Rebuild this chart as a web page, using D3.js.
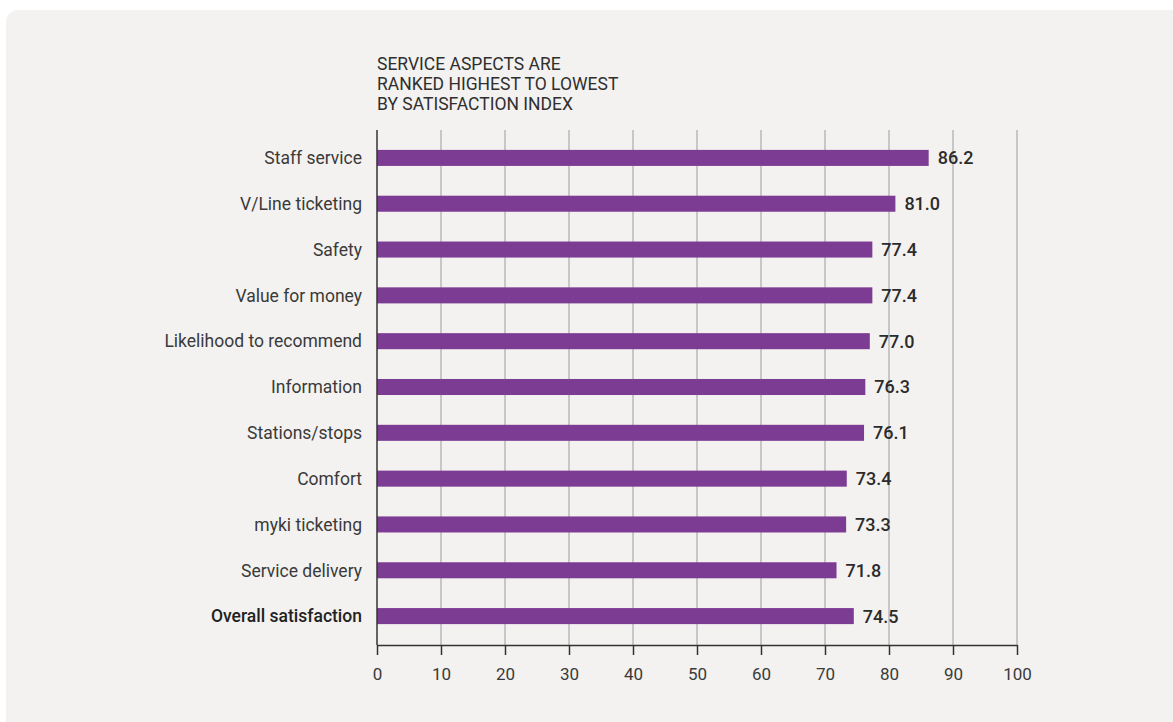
<!DOCTYPE html>
<html>
<head>
<meta charset="utf-8">
<script src="https://cdn.jsdelivr.net/npm/d3@7"></script>
<style>
  html, body { margin: 0; padding: 0; background: #ffffff; }
  svg { display: block; }
  text { font-family: Roboto, "DejaVu Sans", sans-serif; }
</style>
</head>
<body>
<svg id="chart" width="1173" height="722"></svg>
<script>
const categories = ["Staff service", "V/Line ticketing", "Safety", "Value for money", "Likelihood to recommend", "Information", "Stations/stops", "Comfort", "myki ticketing", "Service delivery", "Overall satisfaction"];
const values = [86.2, 81.0, 77.4, 77.4, 77.0, 76.3, 76.1, 73.4, 73.3, 71.8, 74.5];
const xTicks = [0, 10, 20, 30, 40, 50, 60, 70, 80, 90, 100];
const titleLines = ["SERVICE ASPECTS ARE", "RANKED HIGHEST TO LOWEST", "BY SATISFACTION INDEX"];
const highlighted = "Overall satisfaction";

const svg = d3.select("#chart");

svg.append("rect")
  .attr("x", 6).attr("y", 10)
  .attr("width", 1180).attr("height", 730)
  .attr("rx", 12).attr("ry", 12)
  .attr("fill", "#f3f2f0");

const x = d3.scaleLinear().domain([0, 100]).range([377, 1017]);
const y = d3.scaleBand().domain(categories).range([135, 639]).paddingInner(0.65).paddingOuter(0.325);

const gridTop = 130, axisY = 645;

// gridlines
svg.append("g").selectAll("line")
  .data(xTicks.filter(d => d > 0))
  .join("line")
  .attr("x1", d => x(d)).attr("x2", d => x(d))
  .attr("y1", gridTop).attr("y2", axisY)
  .attr("stroke", "#b9b9bd").attr("stroke-width", 1.5);

// bars
svg.append("g").selectAll("rect")
  .data(categories)
  .join("rect")
  .attr("x", x(0))
  .attr("y", d => y(d))
  .attr("width", (d, i) => x(values[i]) - x(0))
  .attr("height", y.bandwidth())
  .attr("fill", "#7d3c94");

// value labels
svg.append("g").selectAll("text")
  .data(categories)
  .join("text")
  .attr("x", (d, i) => x(values[i]) + 9)
  .attr("y", d => y(d) + y.bandwidth() / 2)
  .attr("dy", "0.36em")
  .attr("font-size", 18)
  .attr("font-weight", 500)
  .attr("fill", "#2b2b2b")
  .text((d, i) => values[i].toFixed(1));

// category labels
svg.append("g").selectAll("text")
  .data(categories)
  .join("text")
  .attr("x", 362)
  .attr("y", d => y(d) + y.bandwidth() / 2)
  .attr("dy", "0.36em")
  .attr("text-anchor", "end")
  .attr("font-size", 17.5)
  .attr("font-weight", d => d === highlighted ? 500 : 400)
  .attr("fill", d => d === highlighted ? "#222" : "#3a3a3a")
  .text(d => d);

// left axis line
svg.append("line")
  .attr("x1", x(0)).attr("x2", x(0))
  .attr("y1", gridTop).attr("y2", axisY)
  .attr("stroke", "#333").attr("stroke-width", 1.5);

// bottom axis
const xAxis = d3.axisBottom(x).tickValues(xTicks).tickSize(10).tickPadding(13).tickSizeOuter(0);
const gx = svg.append("g").attr("transform", `translate(0,${axisY})`).call(xAxis);
gx.select(".domain").attr("stroke", "#333").attr("stroke-width", 1.5);
gx.selectAll(".tick line").attr("stroke", "#333").attr("stroke-width", 1.5);
gx.selectAll(".tick text")
  .attr("font-size", 17)
  .attr("font-family", "Roboto, 'DejaVu Sans', sans-serif")
  .attr("fill", "#3a3a3a");

// title
svg.append("g").selectAll("text")
  .data(titleLines)
  .join("text")
  .attr("x", 377)
  .attr("y", (d, i) => 70 + i * 20)
  .attr("font-size", 17.5)
  .attr("fill", "#2f2f2f")
  .text(d => d);
</script>
</body>
</html>
